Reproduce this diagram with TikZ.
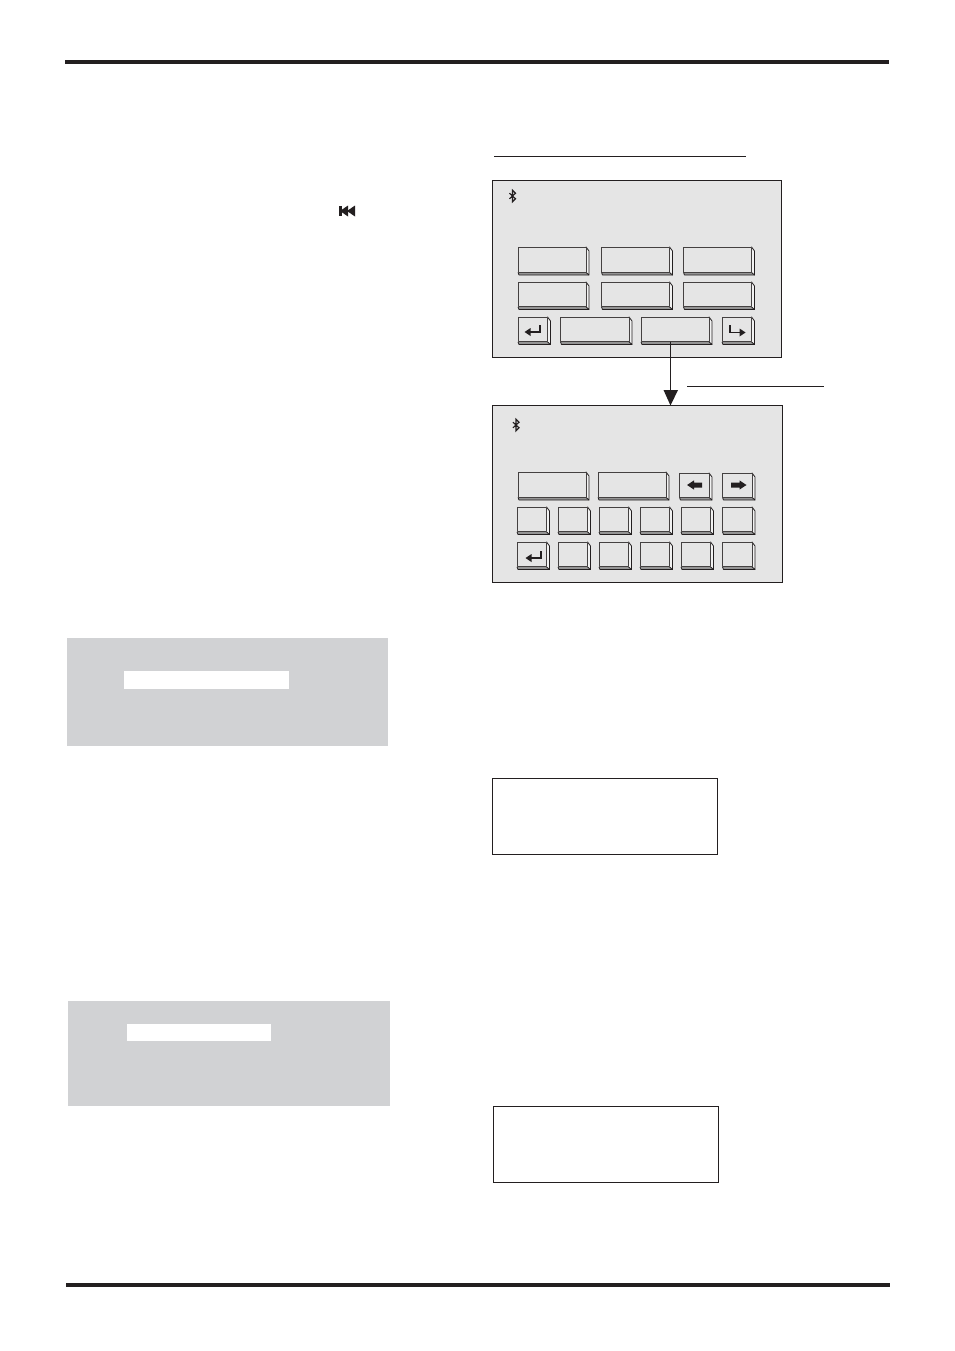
\documentclass[tikz,border=0pt]{standalone}
\colorlet{panelfill}{black!10}
\definecolor{greybox}{HTML}{D1D2D4}
\definecolor{inkc}{HTML}{231F20}
\tikzset{
  flatbox/.style={inner sep=0pt,outer sep=0pt,draw=none},
  panel/.style={flatbox,draw=inkc,line width=1pt,fill=panelfill},
  plainbox/.style={flatbox,draw=inkc,line width=0.8pt,fill=white},
  greypanel/.style={flatbox,fill=greybox},
  whitebar/.style={flatbox,fill=white},
  blackbar/.style={flatbox,fill=inkc},
  hairline/.style={inkc,line width=1pt},
  keyedge/.style={draw=inkc!85!white,line width=1pt,line join=round},
  glyph/.style={inkc,line width=1.5pt},
  solidglyph/.style={fill=inkc,draw=none},
}
% \rectnode{style}{name}{x1}{y1}{x2}{y2}
\newcommand{\rectnode}[6]{%
  \pgfmathsetmacro{\rcx}{(#3+#5)/2}\pgfmathsetmacro{\rcy}{(#4+#6)/2}%
  \pgfmathsetmacro{\rw}{#5-#3}\pgfmathsetmacro{\rh}{#6-#4}%
  \node[#1,minimum width=\rw pt,minimum height=\rh pt] (#2) at (\rcx,\rcy) {};}
% \keycap{name}{x1}{y1}{x2}{y2}
\newcommand{\keycap}[5]{%
  \pgfmathsetmacro{\kfx}{#4-3}\pgfmathsetmacro{\kfy}{#5-2.6}%
  \pgfmathsetmacro{\kcy}{#3+4}%
  \fill[black!42] (#2,\kfy) -- (\kfx,\kfy) -- (#4,#5) -- ({#2+1},#5) -- cycle;
  \draw[draw=inkc,line width=0.8pt,line join=round,fill=panelfill!50!white]
     (\kfx,#3) -- (#4,\kcy) -- (#4,#5) -- (\kfx,\kfy) -- cycle;
  \draw[draw=inkc,line width=0.8pt,line join=round] (#2,\kfy) -- ({#2+1},#5) -- (#4,#5);
  \rectnode{flatbox,keyedge,fill=panelfill}{#1}{#2}{#3}{\kfx}{\kfy}}
% \btglyph{x}{y}
\newcommand{\btglyph}[2]{%
  \draw[inkc,line width=1.2pt,line join=miter]
    ({#1-3},{#2-2.8}) -- ({#1+3},{#2+2.8}) -- (#1,{#2+5.8}) -- (#1,{#2-5.8})
    -- ({#1+3},{#2-2.8}) -- ({#1-3},{#2+2.8});}
% \enterglyph{headx}{y}{endx}{topy}
\newcommand{\enterglyph}[4]{%
  \draw[glyph] ({#1+3},#2) -- (#3,#2) -- (#3,#4);
  \fill[solidglyph] (#1,#2) -- ({#1+6},{#2-4}) -- ({#1+6},{#2+4}) -- cycle;}
\newcommand{\blockleft}[3]{% tip x, y, tail x
  \fill[solidglyph] (#1,#2) -- ({#1+7},{#2-4.6}) -- ({#1+7},{#2-2.5}) -- (#3,{#2-2.5})
    -- (#3,{#2+2.5}) -- ({#1+7},{#2+2.5}) -- ({#1+7},{#2+4.6}) -- cycle;}
\newcommand{\blockright}[3]{%
  \fill[solidglyph] (#1,#2) -- ({#1-7},{#2-4.6}) -- ({#1-7},{#2-2.5}) -- (#3,{#2-2.5})
    -- (#3,{#2+2.5}) -- ({#1-7},{#2+2.5}) -- ({#1-7},{#2+4.6}) -- cycle;}
\begin{document}
\begin{tikzpicture}[x=1pt,y=-1pt]
\useasboundingbox (0,0) rectangle (954,1351);
\fill[white] (0,0) rectangle (954,1351);
% rules
\rectnode{blackbar}{topbar}{65}{60}{889}{64}
\rectnode{blackbar}{botbar}{66}{1283}{890}{1287}
% skip icon
\fill[solidglyph] (339,206) rectangle (341.5,216);
\fill[solidglyph] (340,211) -- (348,205.5) -- (348,216.5) -- cycle;
\fill[solidglyph] (347,211) -- (355,205.5) -- (355,216.5) -- cycle;
% grey panels
\rectnode{greypanel}{gp1}{67}{638}{388}{746}
\rectnode{whitebar}{wb1}{124}{671}{289}{689}
\rectnode{greypanel}{gp2}{68}{1001}{390}{1106}
\rectnode{whitebar}{wb2}{127}{1024}{271}{1041}
% plain boxes
\rectnode{plainbox}{pb1}{492.5}{778.5}{717.5}{854.5}
\rectnode{plainbox}{pb2}{493.5}{1106.5}{718.5}{1182.5}
% heading rules
\coordinate (ha) at (494,156.5); \coordinate (hb) at (746,156.5);
\draw[hairline] (ha) -- (hb);
\coordinate (la) at (687,386.5); \coordinate (lb) at (824,386.5);
\draw[hairline] (la) -- (lb);
% panel 1
\rectnode{panel}{p1}{492.5}{180.5}{781}{357}
\btglyph{512.5}{196}
\keycap{a1}{518}{247}{589}{275}
\keycap{a2}{601.5}{247}{672.5}{275}
\keycap{a3}{683.5}{247}{754.5}{275}
\keycap{a4}{518}{282}{589}{309.5}
\keycap{a5}{601.5}{282}{672.5}{309.5}
\keycap{a6}{683.5}{282}{754.5}{309.5}
\keycap{a7}{518}{317}{550.5}{344.5}
\keycap{a8}{560.5}{317}{632}{344.5}
\keycap{a9}{641}{317}{712}{344.5}
\keycap{a10}{722}{317}{754.5}{344.5}
\enterglyph{524.5}{332}{540}{325}
\draw[glyph] (730,325) -- (730,332.5) -- (741,332.5);
\fill[solidglyph] (745.5,332.5) -- (739.5,328.5) -- (739.5,336.5) -- cycle;
% panel 2
\rectnode{panel}{p2}{492.5}{405.5}{782}{582}
\btglyph{516}{425}
\keycap{b1}{518}{472}{589}{500}
\keycap{b2}{598}{472}{669}{500}
\keycap{b3}{679.5}{473}{712}{500}
\keycap{b4}{722.5}{473}{755}{500}
\blockleft{687}{485}{702}
\blockright{746.5}{485}{731}
\foreach \kx/\kn in {517/1,558/2,599/3,640/4,681/5,722.5/6}{
  \pgfmathsetmacro{\kxe}{\kx+32.5}
  \keycap{c\kn}{\kx}{507}{\kxe}{534.5}
  \keycap{d\kn}{\kx}{542}{\kxe}{569.5}
}
\enterglyph{525.5}{558}{541}{551}
% connector
\coordinate (ctop) at (a9.south -| 670.5,0);
\coordinate (cend) at (p2.north -| 670.5,0);
\draw[inkc,line width=1.1pt] (ctop) -- (670.5,392);
\fill[solidglyph] (cend) -- (663.5,390) -- (678,390) -- cycle;
\end{tikzpicture}
\end{document}
